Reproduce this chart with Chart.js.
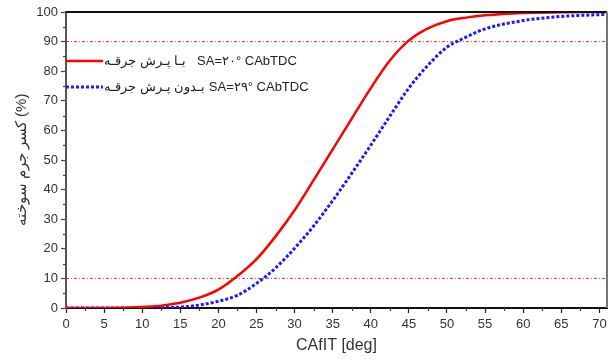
<!DOCTYPE html>
<html>
<head>
<meta charset="utf-8">
<script src="https://cdn.jsdelivr.net/npm/chart.js@4"></script>
<style>
  body { margin: 0; background: #fff; }
  #wrap { width: 611px; height: 361px; }
</style>
</head>
<body>
<div id="wrap"><canvas id="burnChart" width="611" height="361"></canvas></div>
<script>
// crank angle after ignition [deg]
const angle = [0, 5, 10, 12.5, 15, 17.5, 20, 22.5, 25, 27.5, 30, 32.5, 35, 37.5, 40, 42.5, 45, 47.5, 50, 52.5, 55, 60, 65, 71];
// mass fraction burned (%)
const withJump = [0, 0, 0.3, 0.8, 1.8, 3.5, 6.2, 10.8, 16.5, 24.2, 33, 43.2, 53.6, 64, 74.3, 83.6, 90.4, 94.5, 96.9, 98.1, 98.9, 99.7, 99.9, 100];
const withoutJump = [0, 0, 0, 0.1, 0.3, 1.0, 2.3, 4.3, 8.3, 13.5, 20.2, 27.7, 36.3, 45.5, 55, 64.8, 74.3, 82, 88.1, 91.5, 94.3, 97.1, 98.5, 99.2];
const seriesNames = ['بـا پـرش جرقـه   SA=۲۰° CAbTDC', 'بـدون پـرش جرقـه SA=۲۹° CAbTDC'];
const refLevels = [10, 90];
const xTicks = { min: 0, max: 71, step: 5 };
const yTicks = { min: 0, max: 100, step: 10 };

const FONT = 'Liberation Sans, Arial, sans-serif';

function pts(ys) {
  return angle.map((a, i) => ({ x: a, y: ys[i] }));
}

const refSets = refLevels.map(v => ({
  label: '',
  data: [{ x: xTicks.min, y: v }, { x: xTicks.max, y: v }],
  borderColor: 'rgba(230,0,0,0.85)',
  borderWidth: 1,
  borderDash: [3, 2, 1, 2],
  pointRadius: 0,
  inLegend: false
}));

// minor ticks, frame and legend drawn inside the plot
const extras = {
  id: 'extras',
  afterDraw(chart) {
    const { ctx, chartArea: a, scales } = chart;
    ctx.save();
    ctx.strokeStyle = '#444';
    ctx.lineWidth = 1.2;
    for (let v = yTicks.min + yTicks.step / 2; v < yTicks.max; v += yTicks.step) {
      const y = Math.round(scales.y.getPixelForValue(v)) + 0.5;
      ctx.beginPath(); ctx.moveTo(a.left - 3, y); ctx.lineTo(a.left, y); ctx.stroke();
    }
    for (let v = xTicks.min + xTicks.step / 2; v < xTicks.max; v += xTicks.step) {
      const x = Math.round(scales.x.getPixelForValue(v)) + 0.5;
      ctx.beginPath(); ctx.moveTo(x, a.bottom); ctx.lineTo(x, a.bottom + 3); ctx.stroke();
    }
    // top and right frame
    ctx.lineWidth = 2;
    ctx.strokeStyle = '#111';
    ctx.beginPath(); ctx.moveTo(a.left, a.top); ctx.lineTo(a.right, a.top); ctx.stroke();
    ctx.strokeStyle = '#777';
    ctx.beginPath(); ctx.moveTo(a.right, a.top); ctx.lineTo(a.right, a.bottom); ctx.stroke();

    // legend
    ctx.font = '13px ' + FONT;
    ctx.textBaseline = 'middle';
    ctx.fillStyle = '#222';
    chart.data.datasets.filter(d => d.inLegend !== false).forEach((d, i) => {
      const y = a.top + 49 + i * 26;
      ctx.strokeStyle = d.borderColor;
      ctx.lineWidth = d.borderWidth;
      ctx.setLineDash(d.borderDash || []);
      ctx.beginPath(); ctx.moveTo(a.left, y); ctx.lineTo(a.left + 37, y); ctx.stroke();
      ctx.setLineDash([]);
      ctx.fillText(d.label, a.left + 38, y);
    });
    ctx.restore();
  }
};

new Chart(document.getElementById('burnChart'), {
  type: 'line',
  data: {
    datasets: [
      {
        label: seriesNames[0],
        data: pts(withJump),
        borderColor: '#ff0000',
        borderWidth: 2.5,
        pointRadius: 0,
        cubicInterpolationMode: 'monotone'
      },
      {
        label: seriesNames[1],
        data: pts(withoutJump),
        borderColor: '#1a1aff',
        borderWidth: 3,
        borderDash: [3, 2],
        pointRadius: 0,
        cubicInterpolationMode: 'monotone'
      },
      ...refSets
    ]
  },
  options: {
    responsive: false,
    animation: false,
    layout: { padding: { left: 0, right: 4, top: 12, bottom: 0 } },
    plugins: { legend: { display: false }, tooltip: { enabled: false } },
    scales: {
      x: {
        type: 'linear',
        min: xTicks.min,
        max: xTicks.max,
        afterFit: s => { s.height = 53; },
        ticks: {
          stepSize: xTicks.step,
          includeBounds: false,
          maxRotation: 0,
          padding: 4,
          color: '#333',
          font: { family: FONT, size: 13 }
        },
        grid: { drawOnChartArea: false, tickLength: 5, tickColor: '#222', tickWidth: 1.2 },
        border: { color: '#111', width: 2 },
        title: {
          display: true,
          text: 'CAfIT [deg]',
          color: '#333',
          font: { family: FONT, size: 16 },
          padding: { top: 0, bottom: 6 }
        }
      },
      y: {
        min: yTicks.min,
        max: yTicks.max,
        afterFit: s => { s.width = 66; },
        ticks: {
          stepSize: yTicks.step,
          padding: 3,
          color: '#333',
          font: { family: FONT, size: 13 }
        },
        grid: { drawOnChartArea: false, tickLength: 5, tickColor: '#444', tickWidth: 1.2 },
        border: { color: '#555', width: 2 },
        title: {
          display: true,
          text: 'کسر جرم سوخته (%)',
          color: '#333',
          font: { family: FONT, size: 15 },
          padding: { top: 13, bottom: 0 }
        }
      }
    }
  },
  plugins: [extras]
});
</script>
</body>
</html>
